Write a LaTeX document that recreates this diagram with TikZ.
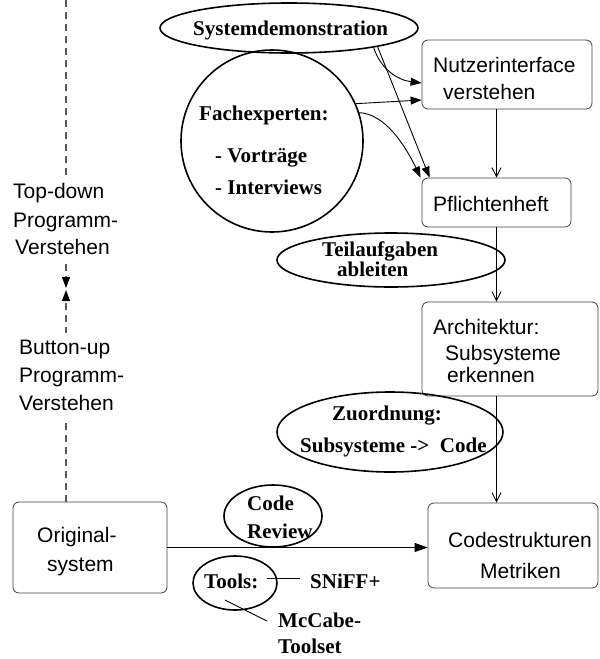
\documentclass[tikz,border=0pt]{standalone}
\usepackage{fontspec}
\setmainfont{Liberation Serif}
\setsansfont{Liberation Sans}
\usetikzlibrary{arrows.meta,shapes.geometric}
\begin{document}
\begin{tikzpicture}[x=1pt,y=-1pt,
  box/.style={draw=black!75, line width=0.8pt, rounded corners=6pt, inner sep=0pt},
  oval/.style={draw, ellipse, line width=1.6pt, inner sep=0pt},
  rund/.style={draw, circle, line width=1.6pt, inner sep=0pt},
  sanst/.style={font=\sffamily\fontsize{21}{25}\selectfont, inner sep=0pt, anchor=base west},
  boldt/.style={font=\rmfamily\bfseries\fontsize{21}{25}\selectfont, inner sep=0pt, anchor=base west},
  lefttext/.style={font=\sffamily\fontsize{21}{25}\selectfont, fill=white, inner ysep=0pt, inner xsep=1pt, text height=21pt, text depth=8pt, anchor=base west},
  conn/.style={line width=0.9pt},
  ftip/.style={-{Triangle[length=11pt,width=8pt]}},
  vtip/.style={-{Straight Barb[length=9pt,width=9pt]}},
  dashline/.style={draw=black!65, line width=1.2pt, dash pattern=on 7pt off 5pt, -{Triangle[length=11pt,width=8pt,color=black]}}
]
\useasboundingbox (0,0) rectangle (600,659);

% boxes
\node[box, minimum width=170pt, minimum height=69pt] (nutzer) at (507,74.5) {};
\node[box, minimum width=149pt, minimum height=49pt] (pflicht) at (496.5,202.5) {};
\node[box, minimum width=176pt, minimum height=94pt] (arch) at (510,349) {};
\node[box, minimum width=154pt, minimum height=91pt] (orig) at (90,547.5) {};
\node[box, minimum width=170pt, minimum height=85pt] (code) at (513,545.5) {};

% ellipses
\node[oval, minimum width=258pt, minimum height=50pt] (sysdemo) at (289,28) {};
\node[rund, minimum size=182pt] (fach) at (272,141) {};
\node[oval, minimum width=228pt, minimum height=54pt] (teil) at (391,260) {};
\node[oval, minimum width=226pt, minimum height=80pt] (zuord) at (390,432) {};
\node[oval, minimum width=98pt, minimum height=62pt] (review) at (273,516) {};
\node[oval, minimum width=84pt, minimum height=54pt] (tools) at (235,583) {};

% texts
\node[boldt] (tsys) at (193,35) {Systemdemonstration};
\node[boldt] (tfach) at (199,120) {Fachexperten:};
\node[boldt] (tvor) at (215,162) {- Vorträge};
\node[boldt] (tint) at (215,194) {- Interviews};
\node[sanst] (tnut1) at (433,72) {Nutzerinterface};
\node[sanst] (tnut2) at (443,99) {verstehen};
\node[sanst] (tpfl) at (433,211) {Pflichtenheft};
\node[boldt] (tteil1) at (322,256) {Teilaufgaben};
\node[boldt] (tteil2) at (337,276) {ableiten};
\node[sanst] (tarch1) at (433,334) {Architektur:};
\node[sanst] (tarch2) at (445,360) {Subsysteme};
\node[sanst] (tarch3) at (447,382) {erkennen};
\node[boldt] (tzu1) at (332,420) {Zuordnung:};
\node[boldt] (tzu2) at (300,452) {Subsysteme ->\ \ Code};
\node[sanst] (torig1) at (37,542) {Original-};
\node[sanst] (torig2) at (47,571) {system};
\node[sanst] (tcode1) at (448,547) {Codestrukturen};
\node[sanst] (tcode2) at (480,578) {Metriken};
\node[boldt] (trev1) at (247,510) {Code};
\node[boldt] (trev2) at (247,538) {Review};
\node[boldt] (ttools) at (204,588) {Tools:};
\node[boldt] (tsniff) at (310,588) {SNiFF+};
\node[boldt] (tmc1) at (278,627) {McCabe-};
\node[boldt] (tmc2) at (278,653) {Toolset};

% dashed program-understanding axis
\coordinate (dtop) at (66,0);
\coordinate (dmidA) at (66,288);
\coordinate (dmidB) at (66,290);
\draw[dashline] (dtop) -- (dmidA);
\draw[dashline] (orig.north -| dtop) -- (dmidB);
\node[lefttext] (ltd1) at (12,198) {Top-down};
\node[lefttext] (ltd2) at (12,227) {Programm-};
\node[lefttext] (ltd3) at (14,254) {Verstehen};
\node[lefttext] (lbu1) at (18,354) {Button-up};
\node[lefttext] (lbu2) at (18,382) {Programm-};
\node[lefttext] (lbu3) at (18,410) {Verstehen};

% connectors
\draw[conn, ftip] (sysdemo.-13.5) .. controls (380,68) and (397,80) .. ([yshift=-8.5pt]nutzer.west);
\draw[conn, ftip] (sysdemo.-12) -- ([xshift=8pt]pflicht.north west);
\draw[conn, ftip] (fach.24) -- ([yshift=-25.5pt]nutzer.west);
\draw[conn, ftip] (fach.18) .. controls (385,114) and (405,145) .. ([xshift=-1pt]pflicht.north west);
\draw[conn, vtip] (nutzer.south -| pflicht.north) -- (pflicht.north);
\draw[conn, vtip] (pflicht.south) -- (pflicht.south |- arch.north);
\draw[conn, vtip] (arch.south -| pflicht.south) -- (code.north -| pflicht.south);
\draw[conn, -{Triangle[length=13pt,width=9pt]}] (orig.east) -- (orig.east -| code.west);

% tool lines
\coordinate (snA) at (267,578);
\coordinate (snB) at (300,578);
\coordinate (mcA) at (225,600);
\coordinate (mcB) at (267,621);
\draw[conn] (snA) -- (snB);
\draw[conn] (mcA) -- (mcB);
\end{tikzpicture}
\end{document}
